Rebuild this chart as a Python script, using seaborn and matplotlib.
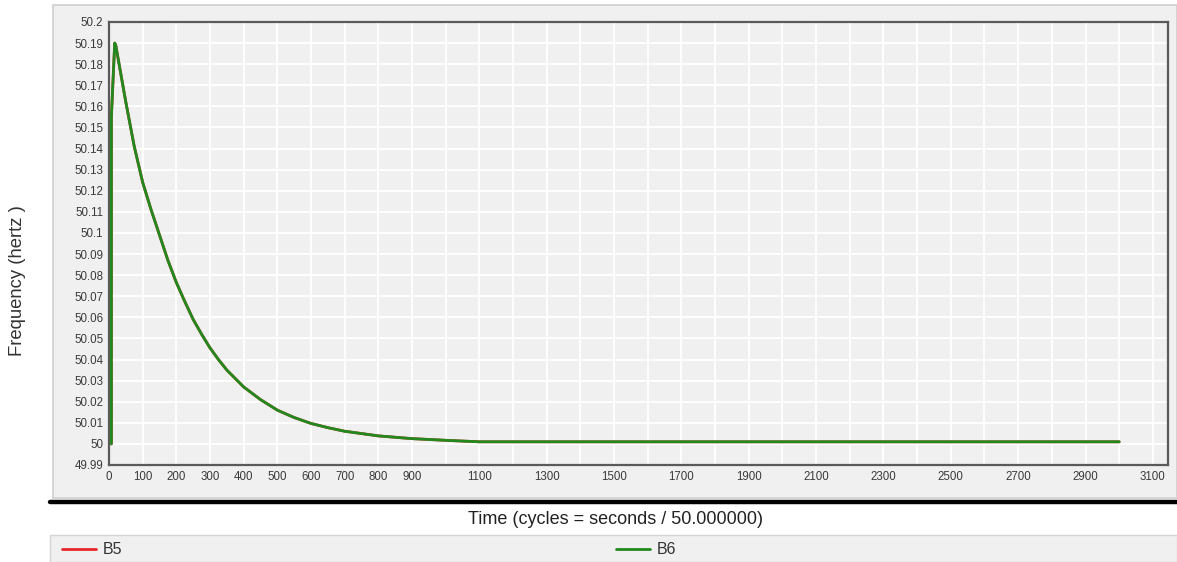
import matplotlib
matplotlib.use("Agg")
import matplotlib.pyplot as plt
import seaborn as sns
import pandas as pd
from matplotlib.patches import Rectangle
from matplotlib.lines import Line2D
from matplotlib.ticker import FixedLocator, NullFormatter

# ---- data ----
time_cycles = [7, 7, 17, 20, 30, 50, 75, 100, 125, 150, 175, 200, 225, 250,
               275, 300, 325, 350, 400, 450, 500, 550, 600, 650, 700, 800,
               900, 1000, 1100, 3000]
freq_b6 = [50.0, 50.155, 50.19, 50.189, 50.18, 50.162, 50.141, 50.124, 50.111,
           50.099, 50.087, 50.0765, 50.0675, 50.059, 50.052, 50.0455, 50.040,
           50.035, 50.027, 50.021, 50.016, 50.0125, 50.0097, 50.0077, 50.006,
           50.0038, 50.0025, 50.0017, 50.001, 50.001]
freq_b5 = list(freq_b6)  # hidden below B6 in the reference
series_names = ["B5", "B6"]
series_colors = {"B5": "#e8262b", "B6": "#21891d"}

y_ticks = [49.99, 50.0, 50.01, 50.02, 50.03, 50.04, 50.05, 50.06, 50.07, 50.08,
           50.09, 50.1, 50.11, 50.12, 50.13, 50.14, 50.15, 50.16, 50.17, 50.18,
           50.19, 50.2]
y_labels = ["49.99", "50", "50.01", "50.02", "50.03", "50.04", "50.05", "50.06",
            "50.07", "50.08", "50.09", "50.1", "50.11", "50.12", "50.13", "50.14",
            "50.15", "50.16", "50.17", "50.18", "50.19", "50.2"]
x_major = [0, 100, 200, 300, 400, 500, 600, 700, 800, 900, 1100, 1300, 1500,
           1700, 1900, 2100, 2300, 2500, 2700, 2900, 3100]
x_minor = [1000, 1200, 1400, 1600, 1800, 2000, 2200, 2400, 2600, 2800, 3000]

df = pd.DataFrame({
    "t": time_cycles + time_cycles,
    "f": freq_b5 + freq_b6,
    "series": ["B5"] * len(time_cycles) + ["B6"] * len(time_cycles),
})

sns.set_style("white")
plt.rcParams["font.family"] = ["Liberation Sans", "DejaVu Sans"]

W, H = 1177, 562
fig = plt.figure(figsize=(W / 100, H / 100), dpi=100)
fig.patch.set_facecolor("white")

# outer gray panel
fig.patches.append(Rectangle((53 / W, 1 - 498 / H), (W - 53) / W, (498 - 5) / H,
                             transform=fig.transFigure, facecolor="#f0f0f0",
                             edgecolor="#d0d0d0", lw=1.2, zorder=-5))
# thick black separator
fig.lines.append(Line2D([50 / W, 1.0], [1 - 502 / H, 1 - 502 / H],
                        transform=fig.transFigure, color="black", lw=3.2,
                        zorder=-4))
# legend box
fig.patches.append(Rectangle((50 / W, 0), (W - 50) / W, (562 - 535) / H,
                             transform=fig.transFigure, facecolor="#f0f0f0",
                             edgecolor="#d4d4d4", lw=1.0, zorder=-5))

ax = fig.add_axes([109 / W, 1 - 465 / H, (1168 - 109) / W, (465 - 22) / H])
ax.set_zorder(5)
ax.set_facecolor("#f0f0f0")

sns.lineplot(data=df, x="t", y="f", hue="series", palette=series_colors,
             hue_order=series_names, estimator=None, sort=False, lw=2.0,
             legend=False, ax=ax, zorder=3)

ax.set_xlim(0, 3145)
ax.set_ylim(49.99, 50.2)
ax.xaxis.set_major_locator(FixedLocator(x_major))
ax.xaxis.set_minor_locator(FixedLocator(x_minor))
ax.xaxis.set_minor_formatter(NullFormatter())
ax.set_xticklabels([str(v) for v in x_major])
ax.yaxis.set_major_locator(FixedLocator(y_ticks))
ax.set_yticklabels(y_labels)
ax.tick_params(axis="both", which="both", direction="in", length=3, width=1,
               color="#555555", labelsize=8.3, labelcolor="#3a3a3a", pad=4)
ax.grid(True, which="both", color="white", lw=1.3)
ax.set_axisbelow(True)
ax.set_xlabel("")
ax.set_ylabel("")
for side, sp in ax.spines.items():
    sp.set_visible(True)
    sp.set_color("#5a5a5a")
    sp.set_linewidth(1.6)

fig.text(615 / W, 1 - 520 / H, "Time (cycles = seconds / 50.000000)",
         ha="center", va="center", fontsize=13, color="#222222")
fig.text(18 / W, 1 - 281 / H, "Frequency (hertz )", rotation=90,
         ha="center", va="center", fontsize=13.3, color="#333333")

# legend entries
for name, x0 in zip(series_names, [62, 616]):
    fig.lines.append(Line2D([x0 / W, (x0 + 34) / W], [1 - 549 / H, 1 - 549 / H],
                            transform=fig.transFigure,
                            color=series_colors[name], lw=2))
    fig.text((x0 + 41) / W, 1 - 549 / H, name, ha="left", va="center",
             fontsize=11.5, color="#333333")

fig.savefig("out.png", dpi=100)
